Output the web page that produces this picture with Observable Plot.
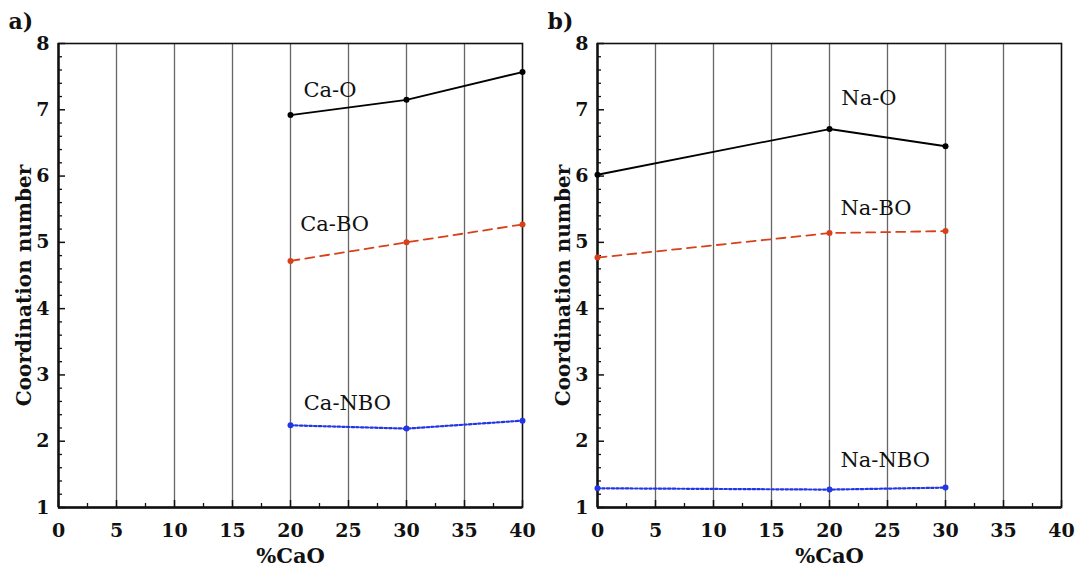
<!DOCTYPE html>
<html>
<head>
<meta charset="utf-8">
<script src="https://cdn.jsdelivr.net/npm/d3@7"></script>
<script src="https://cdn.jsdelivr.net/npm/@observablehq/plot@0.6"></script>
<style>
  html, body { margin: 0; padding: 0; background: #fff; }
  #wrap { position: relative; width: 1077px; height: 568px; overflow: hidden; }
  #pa, #pb { position: absolute; top: 0; }
  #pa { left: 0; }
  #pb { left: 538px; }
</style>
</head>
<body>
<div id="wrap"><div id="pa"></div><div id="pb"></div></div>
<script>
// ---- data ----
const cao_a = [20, 30, 40];
const caO   = [6.92, 7.15, 7.57];
const caBO  = [4.72, 5.00, 5.27];
const caNBO = [2.24, 2.19, 2.31];

const cao_b = [0, 20, 30];
const naO   = [6.02, 6.71, 6.45];
const naBO  = [4.77, 5.14, 5.17];
const naNBO = [1.29, 1.27, 1.30];

const seriesA = ["Ca-O", "Ca-BO", "Ca-NBO"];
const seriesB = ["Na-O", "Na-BO", "Na-NBO"];
const labelXA = [23.4, 23.8, 24.9];
const labelYA = [7.29, 5.27, 2.58];
const labelXB = [23.4, 24.0, 24.8];
const labelYB = [7.18, 5.52, 1.72];

const xTicks = [0, 5, 10, 15, 20, 25, 30, 35, 40];
const xMinor = [2.5, 7.5, 12.5, 17.5, 22.5, 27.5, 32.5, 37.5];
const yTicks = [1, 2, 3, 4, 5, 6, 7, 8];
const yMinor = d3.range(5, 40).filter(d => d % 5 !== 0).map(d => d / 5);
const gridX = [5, 10, 15, 20, 25, 30, 35];

const colors = ["#000000", "#d8401a", "#2236e6"];
const dashes = [null, "9,6", "2.5,2.2"];

const SERIF = "'DejaVu Serif', 'Liberation Serif', serif";
const H = 568, MT = 43, MB = 61;

function makePanel(xs, ys, names, lx, ly, letter, opts) {
  const rows = [];
  ys.forEach((arr, s) => arr.forEach((v, i) => rows.push({series: names[s], x: xs[i], y: v, s})));
  const labels = names.map((n, i) => ({name: n, x: lx[i], y: ly[i]}));
  const fw = opts.width - opts.ml - opts.mr;
  const fh = H - MT - MB;
  const fmt = d3.format("d");
  const marks = [
    Plot.gridX(gridX, {stroke: "#666", strokeOpacity: 1, strokeWidth: 1.3}),
    // inward ticks
    Plot.tickY(yTicks, {y: d => d, insetRight: fw - 7, stroke: "#111", strokeWidth: 1.5}),
    Plot.tickY(yMinor, {y: d => d, insetRight: fw - 4, stroke: "#111", strokeWidth: 1.3}),
    Plot.tickX(xTicks, {x: d => d, insetTop: fh - 7, stroke: "#111", strokeWidth: 1.5}),
    Plot.tickX(xMinor, {x: d => d, insetTop: fh - 4, stroke: "#111", strokeWidth: 1.3}),
    Plot.frame({stroke: "#111", strokeWidth: 1.6}),
    Plot.ruleX([0], {stroke: "#111", strokeWidth: 2.4}),
    Plot.ruleY([1], {stroke: "#111", strokeWidth: 2.4}),
    // axis labels
    Plot.axisY(yTicks, {tickSize: 0, tickPadding: 9, tickFormat: fmt, fontSize: 19, fontWeight: "bold", fontFamily: SERIF, fill: "#111", label: null}),
    Plot.axisX(xTicks, {tickSize: 0, tickPadding: 16, tickFormat: fmt, fontSize: 19, fontWeight: "bold", fontFamily: SERIF, fill: "#111", label: null}),
    // titles
    Plot.text(["Coordination number"], {frameAnchor: "left", textAnchor: "middle", lineAnchor: "middle", rotate: -90, dx: -34, dy: 10, fontSize: 20, fontWeight: "bold", fontFamily: SERIF, fill: "#111"}),
    Plot.text(["%CaO"], {frameAnchor: "bottom", textAnchor: "middle", lineAnchor: "middle", dy: 49, fontSize: 21, fontWeight: "bold", fontFamily: SERIF, fill: "#111"}),
    Plot.text([letter], {frameAnchor: "top-left", dx: -50, dy: -15, lineAnchor: "bottom", fontSize: 22, fontWeight: "bold", fontFamily: SERIF, fill: "#111", textAnchor: "start"}),
    // data
    ...names.map((n, s) => Plot.line(rows.filter(r => r.s === s), {x: "x", y: "y", stroke: colors[s], strokeWidth: s === 2 ? 2.2 : 1.8, strokeDasharray: dashes[s]})),
    Plot.dot(rows, {x: "x", y: "y", r: 3, fill: d => colors[d.s], stroke: "none"}),
    Plot.text(labels, {x: "x", y: "y", text: "name", fontSize: 21, fontFamily: SERIF, fill: "#111"})
  ];
  return Plot.plot({
    width: opts.width,
    height: H,
    marginLeft: opts.ml,
    marginRight: opts.mr,
    marginTop: MT,
    marginBottom: MB,
    x: {domain: [0, 40], axis: null},
    y: {domain: [1, 8], axis: null},
    style: {background: "#fff", overflow: "visible"},
    marks
  });
}

document.getElementById("pa").appendChild(
  makePanel(cao_a, [caO, caBO, caNBO], seriesA, labelXA, labelYA, "a)", {width: 540, ml: 58, mr: 18})
);
document.getElementById("pb").appendChild(
  makePanel(cao_b, [naO, naBO, naNBO], seriesB, labelXB, labelYB, "b)", {width: 539, ml: 59, mr: 16})
);
</script>
</body>
</html>
